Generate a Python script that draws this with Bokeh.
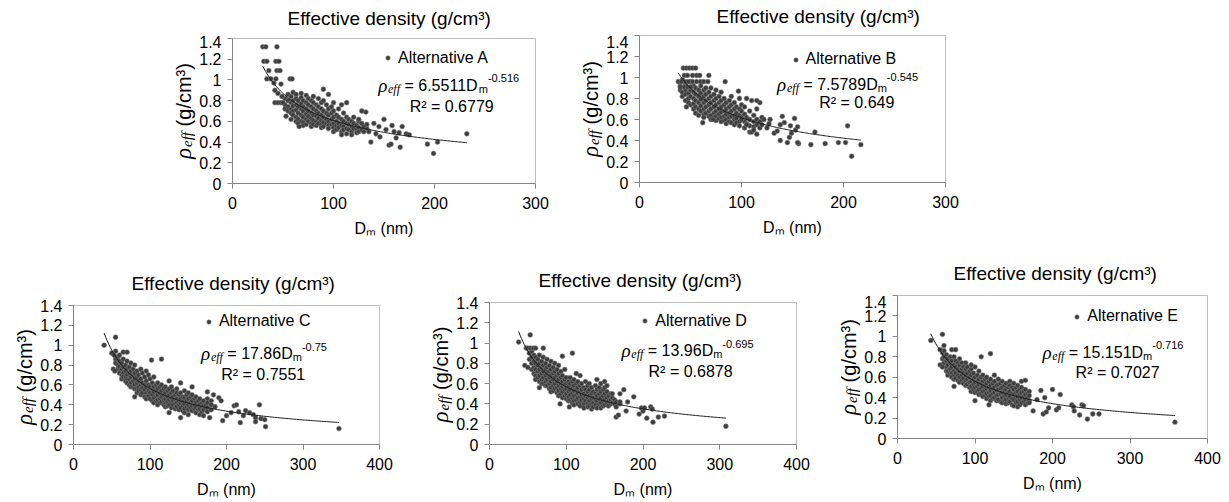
import math
from bokeh.plotting import figure
from bokeh.models import Range1d, FixedTicker, Label, Legend, LegendItem
from bokeh.layouts import row, column
from bokeh.embed import file_html
from bokeh.resources import INLINE

# ------------------------------------------------------------------ data
panel_names = ["A", "B", "C", "D", "E"]
legend_labels = ["Alternative A", "Alternative B", "Alternative C", "Alternative D", "Alternative E"]
coef_a = [6.5511, 7.5789, 17.86, 13.96, 15.151]
coef_str = ["6.5511", "7.5789", "17.86", "13.96", "15.151"]
expo_b = [-0.516, -0.545, -0.75, -0.695, -0.716]
expo_str = ["-0.516", "-0.545", "-0.75", "-0.695", "-0.716"]
r2_str = ["0.6779", "0.649", "0.7551", "0.6878", "0.7027"]
x_max = [300, 300, 400, 400, 400]
x_ticks = [[0, 100, 200, 300], [0, 100, 200, 300],
           [0, 100, 200, 300, 400], [0, 100, 200, 300, 400], [0, 100, 200, 300, 400]]
y_ticks = [0, 0.2, 0.4, 0.6, 0.8, 1, 1.2, 1.4]
y_tick_labels = ["0", "0.2", "0.4", "0.6", "0.8", "1", "1.2", "1.4"]
title_text = "Effective density (g/cm³)"
x_label_text = "Dₘ (nm)"

# scattered points (D_m in nm, rho_eff in g/cm3)
A_cloud = [(52, [0.82, 0.76, 0.72]), (55, [0.86, 0.80, 0.74, 0.70]), (58, [0.84, 0.78, 0.72, 0.68, 0.62]),
           (60, [0.88, 0.80, 0.75, 0.70, 0.66]), (63, [0.86, 0.82, 0.76, 0.71, 0.64, 0.60]),
           (65, [0.80, 0.74, 0.68, 0.62, 0.58]), (68, [0.87, 0.83, 0.77, 0.72, 0.66, 0.60]),
           (70, [0.80, 0.74, 0.70, 0.64, 0.59, 0.56]), (73, [0.85, 0.78, 0.72, 0.67, 0.62, 0.57]),
           (75, [0.82, 0.76, 0.70, 0.65, 0.60]), (78, [0.80, 0.74, 0.68, 0.63, 0.58, 0.55]),
           (80, [0.84, 0.78, 0.72, 0.66, 0.61, 0.57]), (83, [0.76, 0.70, 0.65, 0.60, 0.56]),
           (85, [0.82, 0.74, 0.68, 0.63, 0.58]), (88, [0.78, 0.72, 0.66, 0.61, 0.57, 0.54]),
           (90, [0.80, 0.70, 0.64, 0.59, 0.55]), (93, [0.76, 0.68, 0.62, 0.58]),
           (95, [0.86, 0.72, 0.66, 0.60, 0.56, 0.53]), (98, [0.74, 0.68, 0.62, 0.57]),
           (100, [0.78, 0.70, 0.64, 0.58, 0.54, 0.50]), (103, [0.66, 0.60, 0.56, 0.52]),
           (105, [0.72, 0.64, 0.58, 0.54]), (108, [0.76, 0.62, 0.56, 0.50, 0.47]),
           (110, [0.68, 0.60, 0.55, 0.52]), (113, [0.78, 0.64, 0.58, 0.53, 0.48]),
           (115, [0.62, 0.57, 0.52]), (118, [0.60, 0.55, 0.50, 0.47]), (120, [0.64, 0.58, 0.53]),
           (123, [0.56, 0.52, 0.49]), (125, [0.60, 0.54, 0.50]), (128, [0.58, 0.52]),
           (130, [0.55, 0.50]), (133, [0.53, 0.57])]
A_sparse = [(30, 1.32), (33, 1.32), (44, 1.32), (31, 1.18), (34, 1.18), (43, 1.18), (46, 1.18),
            (36, 1.09), (44, 1.09), (47, 1.09), (34, 1.01), (38, 1.01), (43, 1.01), (57, 1.01),
            (59, 1.01), (41, 0.97), (48, 0.96), (42, 0.90), (45, 0.87), (49, 0.84), (42, 0.78),
            (45, 0.78), (48, 0.78), (50, 0.78), (53, 0.65), (66, 0.55), (90, 0.91), (137, 0.40),
            (142, 0.48), (146, 0.45), (150, 0.62), (155, 0.37), (157, 0.38), (160, 0.50),
            (162, 0.44), (166, 0.35), (168, 0.55), (172, 0.48), (175, 0.47), (193, 0.38),
            (199, 0.29), (203, 0.40), (232, 0.48), (140, 0.58), (132, 0.69), (128, 0.70),
            (125, 0.62), (145, 0.55), (135, 0.50), (152, 0.52), (158, 0.56), (165, 0.49)]

B_cloud = [(40, [0.92, 0.88]), (42, [0.98, 0.86, 0.82]), (45, [0.94, 0.88, 0.84, 0.78]),
           (48, [0.90, 0.85, 0.80, 0.76]), (50, [0.96, 0.88, 0.82, 0.74]),
           (53, [0.92, 0.86, 0.80, 0.75, 0.70]), (55, [0.90, 0.84, 0.78, 0.72, 0.66]),
           (58, [0.88, 0.82, 0.76, 0.70, 0.64]), (60, [0.92, 0.85, 0.79, 0.73, 0.68]),
           (63, [0.88, 0.82, 0.76, 0.70, 0.65, 0.62]), (65, [0.90, 0.84, 0.78, 0.72, 0.66]),
           (68, [0.86, 0.80, 0.74, 0.68, 0.63]), (70, [0.90, 0.82, 0.76, 0.70, 0.64, 0.60]),
           (73, [0.84, 0.78, 0.72, 0.66, 0.62]), (75, [0.88, 0.80, 0.74, 0.68, 0.63, 0.59]),
           (78, [0.82, 0.76, 0.70, 0.65, 0.61]), (80, [0.86, 0.78, 0.72, 0.67, 0.62, 0.58]),
           (83, [0.80, 0.74, 0.68, 0.63, 0.59]), (85, [0.76, 0.70, 0.65, 0.60, 0.56]),
           (88, [0.78, 0.72, 0.66, 0.62, 0.58]), (90, [0.82, 0.74, 0.68, 0.63, 0.57]),
           (93, [0.76, 0.70, 0.64, 0.60, 0.55]), (95, [0.72, 0.66, 0.61, 0.57]),
           (98, [0.80, 0.70, 0.64, 0.58, 0.54]), (100, [0.74, 0.68, 0.62]),
           (103, [0.72, 0.65, 0.58, 0.52]), (105, [0.80, 0.62, 0.56]),
           (108, [0.68, 0.60, 0.54, 0.48]), (112, [0.64, 0.58, 0.53]),
           (115, [0.70, 0.60, 0.55, 0.46]), (118, [0.58, 0.52]), (120, [0.62, 0.55])]
B_sparse = [(43, 1.09), (46, 1.09), (49, 1.09), (52, 1.09), (55, 1.09), (44, 1.02), (47, 1.02),
            (52, 1.02), (56, 1.02), (59, 1.02), (68, 1.02), (38, 0.96), (41, 0.96), (45, 0.96),
            (48, 0.96), (52, 0.96), (56, 0.96), (60, 0.96), (63, 0.96), (67, 0.96), (84, 0.96),
            (40, 0.91), (44, 0.91), (47, 0.91), (50, 0.91), (46, 0.72), (62, 0.57), (72, 0.60),
            (97, 0.87), (110, 0.78), (118, 0.76), (115, 0.78), (122, 0.60), (127, 0.56),
            (128, 0.60), (132, 0.47), (135, 0.49), (138, 0.55), (140, 0.63), (142, 0.57),
            (138, 0.40), (145, 0.38), (147, 0.43), (149, 0.47), (148, 0.54), (152, 0.61),
            (153, 0.50), (155, 0.53), (156, 0.37), (155, 0.38), (168, 0.36), (172, 0.48),
            (182, 0.37), (195, 0.38), (202, 0.38), (204, 0.54), (208, 0.25), (217, 0.36),
            (110, 0.48), (112, 0.50), (105, 0.55), (100, 0.60), (125, 0.52)]

C_cloud = [(55, [0.94, 0.86, 0.82]), (58, [0.88, 0.80, 0.76]), (60, [0.90, 0.84, 0.78, 0.72]),
           (63, [0.82, 0.76, 0.70, 0.66]), (65, [0.86, 0.78, 0.72, 0.68]),
           (68, [0.80, 0.74, 0.68, 0.64]), (70, [0.84, 0.76, 0.70, 0.66, 0.62]),
           (73, [0.78, 0.72, 0.66, 0.60]), (75, [0.82, 0.74, 0.68, 0.62, 0.58]),
           (78, [0.76, 0.70, 0.64, 0.58]), (80, [0.80, 0.72, 0.66, 0.60, 0.56]),
           (83, [0.74, 0.68, 0.62, 0.56, 0.52]), (85, [0.70, 0.64, 0.58, 0.54]),
           (88, [0.76, 0.66, 0.60, 0.55, 0.50]), (90, [0.72, 0.62, 0.57, 0.52]),
           (93, [0.68, 0.60, 0.55, 0.48]), (95, [0.74, 0.64, 0.58, 0.52, 0.46]),
           (98, [0.70, 0.60, 0.54, 0.49]), (100, [0.66, 0.58, 0.52, 0.46]),
           (103, [0.62, 0.56, 0.50, 0.44]), (105, [0.68, 0.58, 0.53, 0.47, 0.42]),
           (108, [0.60, 0.54, 0.49, 0.44]), (110, [0.62, 0.56, 0.50, 0.45, 0.40]),
           (113, [0.58, 0.52, 0.46, 0.42]), (115, [0.60, 0.54, 0.48, 0.43]),
           (118, [0.56, 0.50, 0.45, 0.40]), (120, [0.58, 0.52, 0.46, 0.41, 0.38]),
           (123, [0.54, 0.48, 0.43, 0.39]), (125, [0.64, 0.56, 0.50, 0.45, 0.40]),
           (128, [0.58, 0.52, 0.47, 0.42, 0.37]), (130, [0.54, 0.48, 0.44, 0.40]),
           (133, [0.50, 0.45, 0.41, 0.36]), (135, [0.56, 0.52, 0.46, 0.42, 0.38]),
           (138, [0.50, 0.44, 0.40, 0.35]), (140, [0.62, 0.52, 0.46, 0.42, 0.37]),
           (143, [0.48, 0.43, 0.39, 0.34]), (145, [0.54, 0.47, 0.41, 0.36, 0.32]),
           (148, [0.50, 0.44, 0.38]), (150, [0.52, 0.46, 0.40, 0.35, 0.30]),
           (153, [0.48, 0.42, 0.37]), (155, [0.50, 0.44, 0.39, 0.34]), (158, [0.46, 0.40, 0.36]),
           (160, [0.48, 0.42, 0.37, 0.32]), (163, [0.44, 0.39, 0.35]),
           (165, [0.46, 0.40, 0.36, 0.30]), (168, [0.42, 0.38, 0.33]),
           (170, [0.44, 0.39, 0.35, 0.29]), (173, [0.40, 0.36]), (175, [0.46, 0.42, 0.37, 0.33]),
           (180, [0.44, 0.40, 0.35])]
C_sparse = [(40, 1.00), (55, 1.08), (50, 0.92), (53, 0.90), (52, 0.76), (54, 0.74), (65, 0.93),
            (70, 0.93), (80, 0.48), (102, 0.85), (115, 0.86), (125, 0.32), (140, 0.27),
            (155, 0.58), (175, 0.53), (178, 0.27), (183, 0.50), (190, 0.47), (193, 0.44),
            (195, 0.24), (200, 0.29), (210, 0.39), (213, 0.40), (216, 0.33), (218, 0.22),
            (222, 0.29), (225, 0.34), (230, 0.32), (235, 0.30), (238, 0.27), (238, 0.23),
            (243, 0.40), (245, 0.26), (250, 0.25), (251, 0.18), (347, 0.16), (206, 0.32),
            (185, 0.38)]

D_cloud = [(52, [0.90, 0.84]), (55, [0.92, 0.86, 0.80, 0.74]), (58, [0.88, 0.82, 0.76, 0.70]),
           (60, [0.86, 0.80, 0.74, 0.68, 0.64]), (63, [0.84, 0.78, 0.72, 0.66]),
           (65, [0.88, 0.80, 0.74, 0.68, 0.62]), (68, [0.82, 0.76, 0.70, 0.64, 0.60]),
           (70, [0.86, 0.78, 0.72, 0.66, 0.60]), (73, [0.80, 0.74, 0.68, 0.62, 0.58]),
           (75, [0.84, 0.76, 0.70, 0.64, 0.58]), (78, [0.78, 0.72, 0.66, 0.60, 0.55]),
           (80, [0.82, 0.74, 0.68, 0.62, 0.56, 0.52]), (83, [0.76, 0.70, 0.64, 0.58, 0.53]),
           (85, [0.80, 0.72, 0.66, 0.60, 0.55]), (88, [0.74, 0.68, 0.62, 0.56, 0.51]),
           (90, [0.78, 0.70, 0.64, 0.58, 0.53, 0.48]), (93, [0.72, 0.66, 0.60, 0.55, 0.50]),
           (95, [0.68, 0.62, 0.57, 0.52, 0.46]), (98, [0.74, 0.64, 0.59, 0.54, 0.48]),
           (100, [0.66, 0.60, 0.55, 0.50, 0.45]), (103, [0.62, 0.57, 0.52, 0.47, 0.43]),
           (105, [0.66, 0.60, 0.54, 0.49, 0.44]), (108, [0.62, 0.56, 0.51, 0.46, 0.41]),
           (110, [0.64, 0.58, 0.53, 0.48, 0.43, 0.39]), (113, [0.70, 0.60, 0.54, 0.49, 0.44]),
           (115, [0.62, 0.56, 0.51, 0.46, 0.40]), (118, [0.68, 0.58, 0.52, 0.47, 0.42, 0.38]),
           (120, [0.60, 0.54, 0.49, 0.44]), (123, [0.56, 0.50, 0.45, 0.40, 0.36]),
           (125, [0.62, 0.54, 0.48, 0.43]), (128, [0.58, 0.52, 0.46, 0.41, 0.37]),
           (130, [0.60, 0.54, 0.48, 0.43, 0.38]), (133, [0.56, 0.50, 0.45, 0.40, 0.35]),
           (135, [0.52, 0.46, 0.41, 0.37]), (138, [0.58, 0.50, 0.44, 0.39]),
           (140, [0.54, 0.48, 0.43, 0.36]), (143, [0.56, 0.50, 0.45, 0.40]),
           (145, [0.60, 0.52, 0.46, 0.41, 0.36]), (148, [0.54, 0.48, 0.43, 0.38]),
           (150, [0.56, 0.50, 0.44, 0.39]), (153, [0.58, 0.52, 0.46, 0.41]),
           (155, [0.48, 0.43, 0.38]), (158, [0.50, 0.44, 0.40]), (160, [0.46, 0.41]),
           (163, [0.44, 0.40]), (165, [0.42, 0.37]), (170, [0.50, 0.40])]
D_sparse = [(38, 1.01), (53, 1.08), (48, 0.95), (50, 0.95), (53, 0.95), (57, 0.95), (60, 0.95),
            (70, 0.95), (46, 0.78), (50, 0.76), (65, 0.56), (95, 0.87), (108, 0.90), (92, 0.40),
            (104, 0.37), (140, 0.64), (150, 0.62), (165, 0.27), (168, 0.29), (175, 0.54),
            (178, 0.33), (180, 0.42), (188, 0.47), (195, 0.30), (198, 0.36), (200, 0.33),
            (202, 0.36), (205, 0.26), (210, 0.37), (212, 0.35), (213, 0.22), (220, 0.27),
            (228, 0.28), (308, 0.18), (160, 0.50), (170, 0.42)]

E_cloud = [(58, [0.84, 0.78]), (60, [0.86, 0.80, 0.74]), (63, [0.82, 0.76, 0.70, 0.66]),
           (65, [0.78, 0.72, 0.66, 0.62]), (68, [0.80, 0.74, 0.68, 0.64]),
           (70, [0.76, 0.70, 0.64, 0.60]), (73, [0.80, 0.72, 0.66, 0.62, 0.58]),
           (75, [0.76, 0.70, 0.64, 0.59]), (78, [0.74, 0.68, 0.62, 0.57]),
           (80, [0.78, 0.72, 0.66, 0.60, 0.55]), (83, [0.74, 0.68, 0.62, 0.57]),
           (85, [0.70, 0.64, 0.59, 0.54]), (88, [0.74, 0.68, 0.62, 0.56, 0.52]),
           (90, [0.70, 0.64, 0.58, 0.53]), (93, [0.66, 0.60, 0.55, 0.50]),
           (95, [0.68, 0.62, 0.56, 0.51, 0.46]), (98, [0.64, 0.58, 0.53, 0.48]),
           (100, [0.70, 0.60, 0.55, 0.50, 0.45]), (103, [0.62, 0.56, 0.51, 0.46]),
           (105, [0.66, 0.58, 0.53, 0.48, 0.43]), (108, [0.60, 0.54, 0.49, 0.44]),
           (110, [0.62, 0.56, 0.51, 0.46, 0.41]), (113, [0.58, 0.52, 0.47, 0.42]),
           (115, [0.60, 0.54, 0.49, 0.44, 0.39]), (118, [0.56, 0.50, 0.45, 0.41]),
           (120, [0.58, 0.52, 0.47, 0.42, 0.37]), (123, [0.54, 0.49, 0.44, 0.39]),
           (125, [0.62, 0.56, 0.50, 0.45, 0.40]), (128, [0.52, 0.47, 0.42, 0.37]),
           (130, [0.58, 0.53, 0.48, 0.43, 0.38]), (133, [0.54, 0.49, 0.44, 0.36]),
           (135, [0.56, 0.50, 0.45, 0.40, 0.35]), (138, [0.52, 0.47, 0.42, 0.37]),
           (140, [0.54, 0.48, 0.43, 0.38, 0.34]), (143, [0.50, 0.45, 0.40, 0.35]),
           (145, [0.56, 0.52, 0.46, 0.41, 0.36]), (148, [0.50, 0.44, 0.39, 0.33]),
           (150, [0.54, 0.48, 0.43, 0.38, 0.32]), (153, [0.50, 0.45, 0.40, 0.35]),
           (155, [0.52, 0.46, 0.41, 0.36, 0.31]), (158, [0.48, 0.43, 0.38, 0.33]),
           (160, [0.50, 0.45, 0.40, 0.35]), (163, [0.46, 0.41, 0.36]),
           (165, [0.48, 0.43, 0.38, 0.33]), (168, [0.44, 0.40, 0.35]), (170, [0.46, 0.42, 0.37])]
E_sparse = [(43, 0.96), (58, 1.02), (55, 0.87), (60, 0.91), (70, 0.87), (75, 0.87), (55, 0.72),
            (58, 0.70), (73, 0.51), (95, 0.72), (108, 0.80), (120, 0.83), (100, 0.37),
            (118, 0.33), (160, 0.56), (165, 0.57), (175, 0.27), (185, 0.47), (188, 0.24),
            (192, 0.26), (195, 0.30), (200, 0.48), (205, 0.28), (208, 0.30), (210, 0.43),
            (225, 0.33), (227, 0.31), (228, 0.27), (235, 0.23), (238, 0.33), (240, 0.32),
            (245, 0.19), (252, 0.24), (260, 0.24), (358, 0.16), (180, 0.38), (190, 0.40),
            (170, 0.35)]

clouds = [A_cloud, B_cloud, C_cloud, D_cloud, E_cloud]
sparses = [A_sparse, B_sparse, C_sparse, D_sparse, E_sparse]

# ------------------------------------------------------------------ layout / style (not data)
FONT = "Liberation Sans"
SERIF = "Liberation Serif"
NB = "\u00a0"

# main figures: size and borders in px; text positions in data units
cfg = [
    dict(w=359, h=225, l=36, r=20, t=3, b=77, leg=(154, 1.21), eq=(214, 1.00), r2=(217, 0.80)),
    dict(w=372, h=225, l=36, r=30, t=0, b=78, leg=(153, 1.17), eq=(204, 0.99), r2=(213, 0.81)),
    dict(w=387, h=205, l=36, r=45, t=10, b=52, leg=(177, 1.20), eq=(249, 0.97), r2=(248, 0.76)),
    dict(w=363, h=205, l=36, r=20, t=7, b=54, leg=(203, 1.20), eq=(258, 0.98), r2=(262, 0.77)),
    dict(w=364, h=205, l=36, r=18, t=0, b=62, leg=(232, 1.19), eq=(278, 0.90), r2=(284, 0.70)),
]
ylab_w = [196, 48, 37, 29, 45]          # width of the strip holding each rotated y title
top_strip = dict(w=975, h=35, titles=[(287, 18), (716, 16)])
bot_strip = dict(w=1225, h=35, titles=[(131, 23), (538, 20), (953, 13)])

W_SANS = {' ': 278, NB: 278, '(': 333, ')': 333, '/': 278, '.': 278, '-': 333, '=': 584, 'D': 722,
          'R': 722, 'm': 833, 'n': 556, 'c': 500, 'g': 556, '²': 333, '³': 333, 'e': 556, 'f': 278}
for _d in "0123456789":
    W_SANS[_d] = 556
W_SERIF_IT = {'ρ': 520, 'e': 444, 'f': 278}


def text_w(s, size, table):
    return sum(table.get(ch, 556) for ch in s) * size / 1000.0


def blank(w, h):
    q = figure(width=w, height=h, x_range=Range1d(0, w), y_range=Range1d(0, h),
               output_backend="svg", toolbar_location=None,
               x_axis_location=None, y_axis_location=None,
               min_border_left=0, min_border_right=0, min_border_top=0, min_border_bottom=0)
    q.grid.visible = False
    q.outline_line_color = None
    q.frame_align = False
    return q


def make_title_strip(spec):
    q = blank(spec["w"], spec["h"])
    for x, yc in spec["titles"]:
        q.add_layout(Label(x=x, y=spec["h"] - yc, text=title_text, text_font=FONT,
                           text_font_size="19px", text_color="black",
                           text_align="left", text_baseline="middle"))
    return q


def make_ylabel(i):
    c = cfg[i]
    w = ylab_w[i]
    fh = c["h"] - c["t"] - c["b"]
    q = blank(w, c["h"])
    pieces = [("ρ", SERIF, "italic", 23, 0, W_SERIF_IT),
              ("eff", SERIF, "italic", 15, 3, W_SERIF_IT),
              (NB + "(g/cm³)", FONT, "normal", 20, 0, W_SANS)]
    widths = [text_w(s, fs, tb) for s, _, _, fs, _, tb in pieces]
    ycur = c["h"] - c["t"] - fh / 2 - sum(widths) / 2
    bx = w - 13
    for (s, fnt, sty, fs, sh, tb), wdt in zip(pieces, widths):
        q.add_layout(Label(x=bx + sh, y=ycur, text=s, text_font=fnt, text_font_style=sty,
                           text_font_size=f"{fs}px", text_color="black",
                           text_align="left", text_baseline="middle", angle=math.pi / 2))
        ycur += wdt
    return q


def make_panel(i):
    c = cfg[i]
    fw = c["w"] - c["l"] - c["r"]
    fh = c["h"] - c["t"] - c["b"]
    xm = x_max[i]
    sx = fw / xm
    sy = fh / 1.4
    p = figure(width=c["w"], height=c["h"], x_range=Range1d(0, xm), y_range=Range1d(0, 1.4),
               output_backend="svg", toolbar_location=None,
               min_border_left=c["l"], min_border_right=c["r"],
               min_border_top=c["t"], min_border_bottom=c["b"])
    p.frame_align = False
    p.grid.visible = False
    p.outline_line_color = "#bfbfbf"
    p.outline_line_width = 1

    for ax in (p.xaxis[0], p.yaxis[0]):
        ax.axis_line_color = "#868686"
        ax.major_tick_line_color = "#868686"
        ax.major_tick_out = 5
        ax.major_tick_in = 0
        ax.minor_tick_line_color = None
        ax.major_label_text_font = FONT
        ax.major_label_text_font_size = "16px"
        ax.major_label_text_color = "black"
    p.xaxis.major_label_standoff = 8
    p.yaxis.major_label_standoff = 6
    p.xaxis.ticker = FixedTicker(ticks=x_ticks[i])
    p.yaxis.ticker = FixedTicker(ticks=y_ticks)
    p.yaxis.major_label_overrides = {t: lab for t, lab in zip(y_ticks, y_tick_labels)}
    p.xaxis.axis_label = x_label_text
    p.xaxis.axis_label_text_font = FONT
    p.xaxis.axis_label_text_font_size = "16px"
    p.xaxis.axis_label_text_font_style = "normal"
    p.xaxis.axis_label_text_color = "black"
    p.xaxis.axis_label_standoff = 8

    xs, ys = [], []
    for xv, yl in clouds[i]:
        for yv in yl:
            xs.append(xv)
            ys.append(yv)
    for xv, yv in sparses[i]:
        xs.append(xv)
        ys.append(yv)
    r = p.scatter(xs, ys, size=4.8, fill_color="#3d3d3d", line_color="#7a7a7a", line_width=0.6)

    # power trendline drawn from the chart's own fitted equation
    x0, x1 = min(xs), max(xs)
    n = 150
    tx = [x0 + (x1 - x0) * k / (n - 1) for k in range(n)]
    ty = [coef_a[i] * v ** expo_b[i] for v in tx]
    p.line(tx, ty, line_color="#1a1a1a", line_width=1)

    lx_px = c["leg"][0] * sx
    ly_px = c["leg"][1] * sy
    leg = Legend(items=[LegendItem(label=legend_labels[i], renderers=[r])],
                 location=(lx_px - 5.5, ly_px - 9), padding=0, margin=0, spacing=0,
                 glyph_width=11, glyph_height=11, label_standoff=5,
                 border_line_color=None, background_fill_alpha=0,
                 label_text_font=FONT, label_text_font_size="16px", label_text_color="black")
    p.add_layout(leg)

    pieces = [("ρ", SERIF, "italic", 19, 0, W_SERIF_IT),
              ("eff", SERIF, "italic", 12, -4, W_SERIF_IT),
              (NB + "=" + NB + coef_str[i] + "D", FONT, "normal", 16, 0, W_SANS),
              ("m", FONT, "normal", 11, -4, W_SANS),
              (expo_str[i], FONT, "normal", 11, 7, W_SANS)]
    widths = [text_w(s, fs, tb) for s, _, _, fs, _, tb in pieces]
    cur = c["eq"][0] * sx - sum(widths) / 2
    base = c["eq"][1] * sy - 5.5
    for (s, fnt, sty, fs, sh, tb), wdt in zip(pieces, widths):
        p.add_layout(Label(x=cur / sx, y=(base + sh) / sy, text=s, text_font=fnt,
                           text_font_style=sty, text_font_size=f"{fs}px", text_color="black",
                           text_align="left", text_baseline="alphabetic"))
        cur += wdt
    p.add_layout(Label(x=c["r2"][0], y=(c["r2"][1] * sy - 5.5) / sy, text="R² = " + r2_str[i],
                       text_font=FONT, text_font_size="16px", text_color="black",
                       text_align="center", text_baseline="alphabetic"))
    return p


mains = [make_panel(i) for i in range(5)]
ylabs = [make_ylabel(i) for i in range(5)]
layout = column(
    make_title_strip(top_strip),
    row(ylabs[0], mains[0], ylabs[1], mains[1]),
    make_title_strip(bot_strip),
    row(ylabs[2], mains[2], ylabs[3], mains[3], ylabs[4], mains[4]),
)
open("out.html", "w").write(file_html(layout, INLINE))
